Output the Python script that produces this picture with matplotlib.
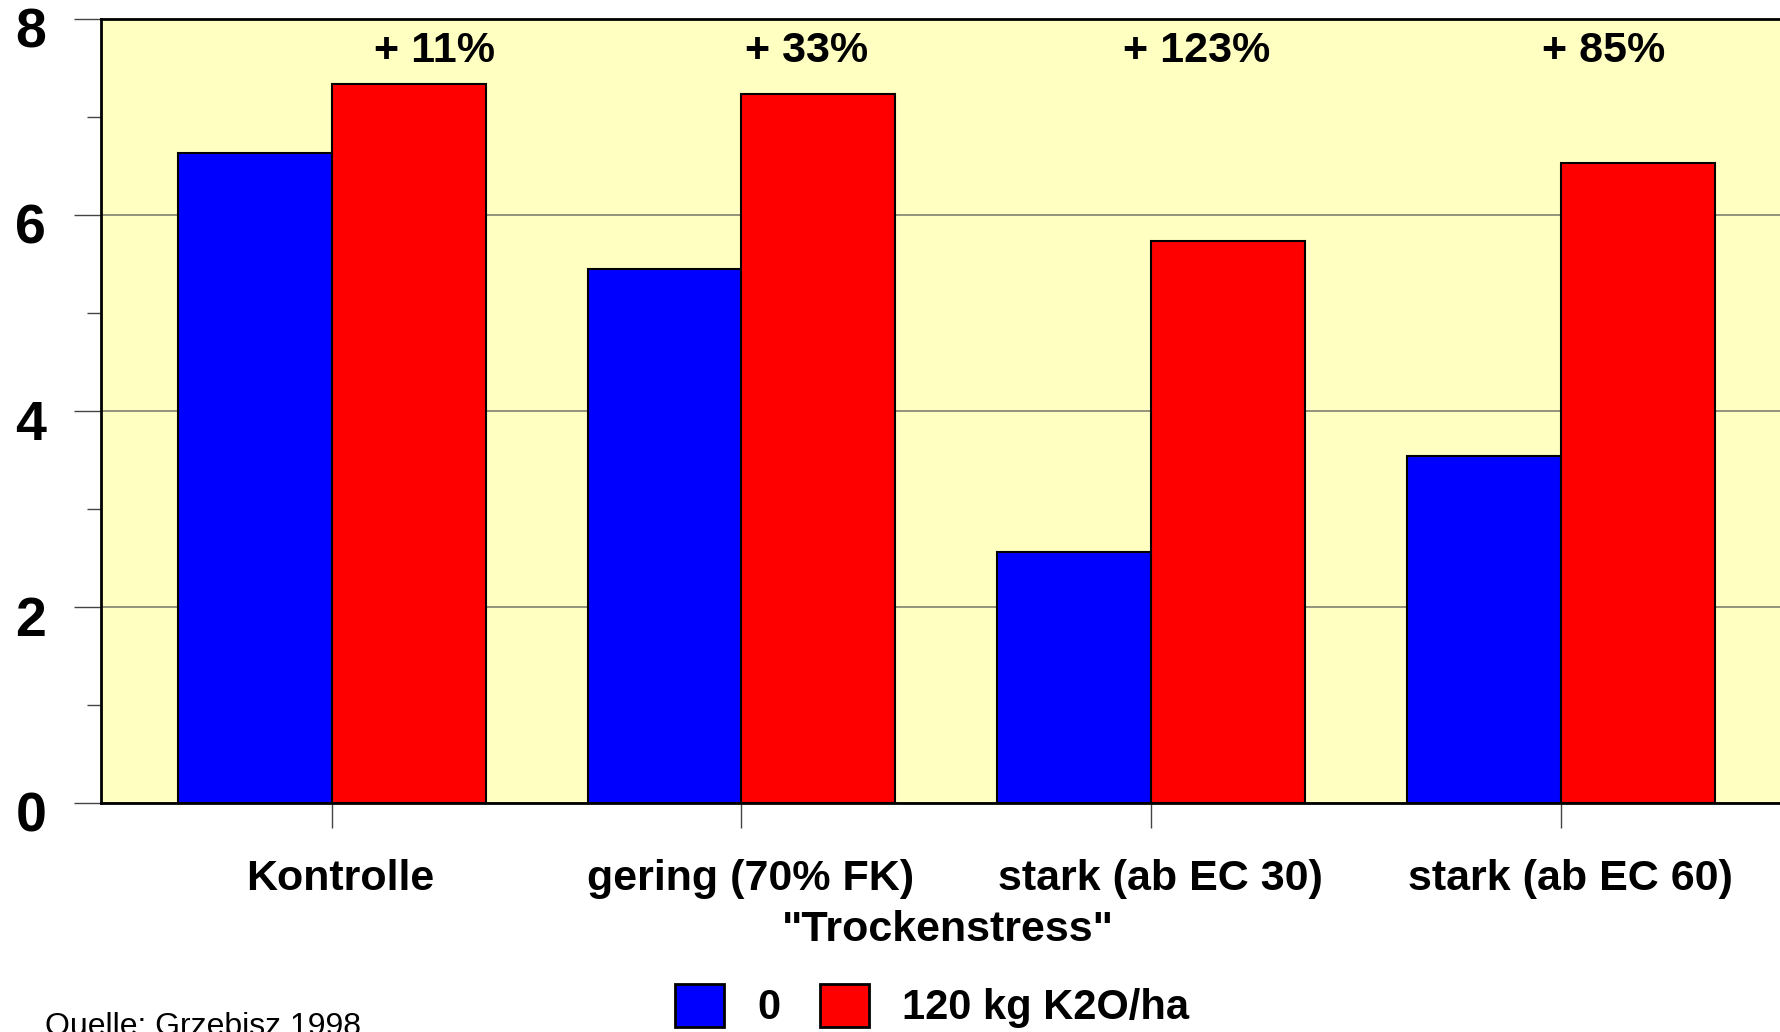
import matplotlib
matplotlib.use("Agg")
import matplotlib.pyplot as plt
from matplotlib.ticker import MultipleLocator
from matplotlib.transforms import ScaledTranslation
import numpy as np

plt.rcParams['font.family'] = ['Liberation Sans', 'DejaVu Sans']

categories = ["Kontrolle", "gering (70% FK)", "stark (ab EC 30)", "stark (ab EC 60)"]
ohne_kalium = [6.63, 5.45, 2.56, 3.54]
mit_kalium = [7.34, 7.23, 5.73, 6.53]
zuwachs = ["+ 11%", "+ 33%", "+ 123%", "+ 85%"]
series_labels = ["0", "120 kg K2O/ha"]
y_ticks = [0, 2, 4, 6, 8]

# horizontal offsets of the increase labels relative to each group centre
label_offsets = [0.25, 0.16, 0.11, 0.105]

fig = plt.figure(figsize=(17.81, 10.32), dpi=100)
ax = fig.add_axes([101 / 1781, 1 - 803 / 1032, (1781 - 101) / 1781, (803 - 19) / 1032])
ax.set_facecolor('#FFFFC2')

x = np.arange(len(categories))
w = 0.3757
b1 = ax.bar(x - w / 2, ohne_kalium, w, color='#0000FF', edgecolor='black', linewidth=1.5,
            label=series_labels[0], zorder=3)
b2 = ax.bar(x + w / 2, mit_kalium, w, color='#FF0000', edgecolor='black', linewidth=1.5,
            label=series_labels[1], zorder=3)

for xi, off, txt in zip(x, label_offsets, zuwachs):
    ax.text(xi + off, 7.67, txt, ha='center', va='center', fontsize=31, fontweight='bold', zorder=4)

ax.set_xlim(-0.563, 3.537)
ax.set_ylim(0, 8)

ax.set_yticks(y_ticks)
ax.set_yticklabels([str(t) for t in y_ticks], fontsize=40, fontweight='bold')
ax.yaxis.set_minor_locator(MultipleLocator(1))
ax.tick_params(axis='y', which='major', length=19.5, width=1, color='#444444', pad=20)
ax.tick_params(axis='y', which='minor', length=10, width=1, color='#444444')

ax.set_xticks(x)
ax.set_xticklabels(categories, fontsize=31, fontweight='bold')
ax.tick_params(axis='x', which='major', length=18, width=1, color='#444444', pad=22)

# value labels sit a little below their ticks; category labels a little right
for lab in ax.get_yticklabels():
    lab.set_transform(lab.get_transform() + ScaledTranslation(0, -0.09, fig.dpi_scale_trans))
for lab in ax.get_xticklabels():
    lab.set_transform(lab.get_transform() + ScaledTranslation(0.09, 0, fig.dpi_scale_trans))

ax.yaxis.grid(True, which='major', color='#808070', linewidth=1.2, zorder=0)
ax.set_axisbelow(True)

for side in ['left', 'top', 'bottom']:
    ax.spines[side].set_linewidth(2)
    ax.spines[side].set_color('black')
    ax.spines[side].set_zorder(5)
ax.spines['right'].set_visible(False)

fig.text(948 / 1781, 1 - 930 / 1032, '"Trockenstress"', ha='center', va='center',
         fontsize=31, fontweight='bold')

leg = fig.legend(handles=[b1, b2], labels=series_labels, loc='center left',
                 bbox_to_anchor=(675 / 1781, 1 - 1006 / 1032), ncol=2, frameon=False,
                 prop={'weight': 'bold', 'size': 30},
                 handlelength=1.17, handleheight=1.2, handletextpad=0.8,
                 columnspacing=0.95, borderpad=0, borderaxespad=0)
for h in leg.legend_handles:
    h.set_linewidth(2)

fig.text(45 / 1781, 1 - 1012 / 1032, "Quelle: Grzebisz 1998", ha='left', va='top', fontsize=23)

fig.savefig("out.png", dpi=100)
